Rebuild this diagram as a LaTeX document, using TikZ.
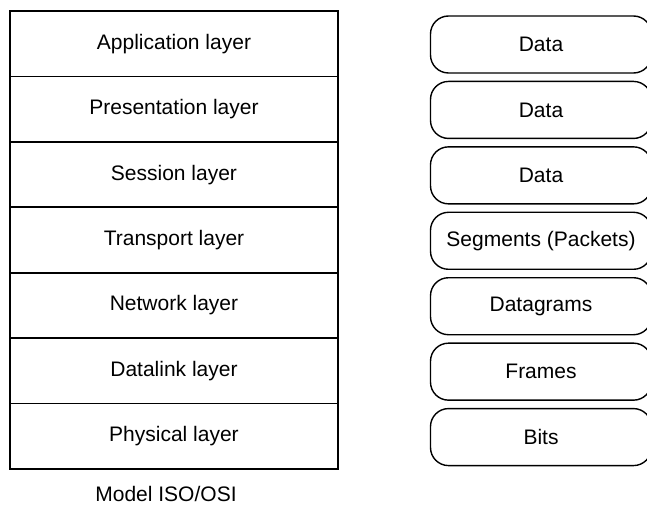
\documentclass[tikz,border=0pt]{standalone}
\usepackage{fontspec}
\setmainfont{Liberation Sans}
\begin{document}
\begin{tikzpicture}[x=1pt,y=-1pt,
  layer/.style={draw=black,line width=1.6pt,minimum width=328pt,minimum height=65.43pt,inner sep=0pt,outer sep=0pt,font=\fontsize{21}{24}\selectfont},
  pdu/.style={draw=black,line width=1.4pt,rounded corners=18pt,minimum width=221pt,minimum height=57pt,inner sep=0pt,font=\fontsize{21}{24}\selectfont},
  caption/.style={font=\fontsize{21}{24}\selectfont}]
\useasboundingbox (0,0) rectangle (647,505);
\clip (0,0) rectangle (647,505);
\foreach \n/\t [count=\i from 0] in {app/Application layer,pres/Presentation layer,sess/Session layer,trans/Transport layer,net/Network layer,dl/Datalink layer,phys/Physical layer}{
  \node[layer] (\n) at (174,{11+65.43*\i+32.715}) {\t};
}
\foreach \n/\t [count=\i from 0] in {d1/Data,d2/Data,d3/Data,seg/Segments (Packets),dg/Datagrams,fr/Frames,bits/Bits}{
  \node[pdu] (\n) at (541,{16+65.43*\i+28.5}) {\t};
}
\node[caption] (cap) at (166,494) {Model ISO/OSI};
\end{tikzpicture}
\end{document}
